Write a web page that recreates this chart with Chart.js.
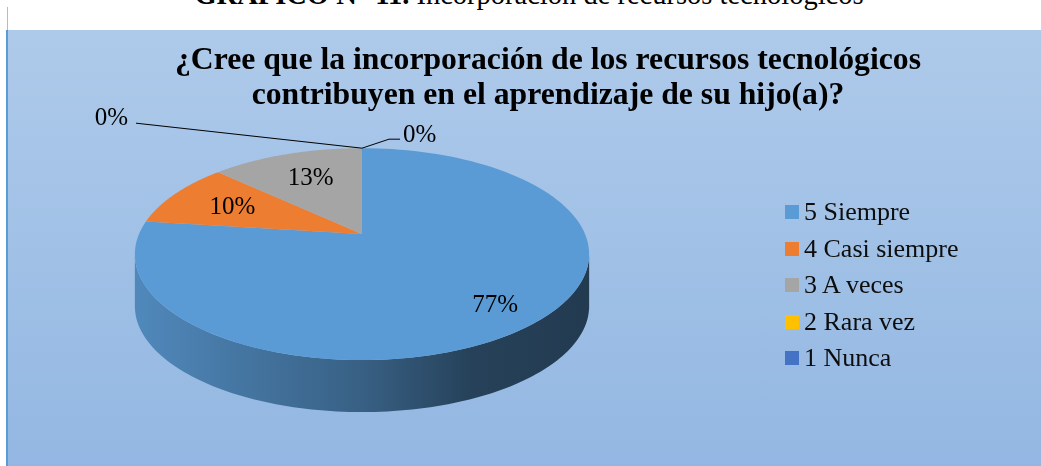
<!DOCTYPE html>
<html>
<head>
<meta charset="utf-8">
<script src="https://cdn.jsdelivr.net/npm/chart.js@4.4.0/dist/chart.umd.min.js"></script>
<style>
  body { margin: 0; width: 1041px; height: 466px; overflow: hidden; background: #fff; position: relative;
         font-family: "Liberation Serif", "Times New Roman", serif; }
  #caption { position: absolute; left: 0; width: 1058px; top: -19px; text-align: center; font-size: 28.5px;
             line-height: 28px; color: #000; white-space: nowrap; }
  #edge { position: absolute; left: 7px; top: 7px; width: 1px; height: 23px; background: #9dc0e6; }
  #frame { position: absolute; left: 6px; top: 30px; width: 1035px; height: 436px; box-sizing: border-box;
           border-left: 2px solid #5b9bd5; background: linear-gradient(#aecaea, #93b7e2); }
  #chart { position: absolute; left: 0; top: 0; }
  #title { position: absolute; left: 0; width: 1096px; top: 41px; text-align: center; font-weight: bold;
           font-size: 31.7px; line-height: 35px; color: #000; white-space: nowrap; }
  #legend { position: absolute; left: 785px; top: 194px; }
  .row { display: flex; align-items: center; height: 36.5px; font-size: 26px; line-height: 26px; color: #0d0d0d; white-space: nowrap; }
  .key { width: 14px; height: 14px; margin-right: 5px; flex: none; }
</style>
</head>
<body>
<div id="caption"><b>GRÁFICO N° 11.</b> Incorporación de recursos tecnológicos</div>
<div id="edge"></div>
<div id="frame"></div>
<canvas id="chart" width="1041" height="466"></canvas>
<div id="title">¿Cree que la incorporación de los recursos tecnológicos<br>contribuyen en el aprendizaje de su hijo(a)?</div>
<div id="legend"></div>
<script>
const labels = ["5 Siempre", "4 Casi siempre", "3 A veces", "2 Rara vez", "1 Nunca"];
const values = [77, 10, 13, 0, 0];
const colors = ["#5b9bd5", "#ed7d31", "#a5a5a5", "#ffc000", "#4472c4"];

const total = values.reduce((a, b) => a + b, 0);

// fake 3d: perspective tilt, vertical squash, wall height
const TILT = 0.19, SQUASH = 0.458, DEPTH = 52;

function proj(el, ang, f) {
  const u = Math.cos(ang) * f, v = -Math.sin(ang) * f;
  const d = 1 + TILT * v;
  return { x: el.x + el.outerRadius * u / d, y: el.y - el.outerRadius * SQUASH * v / d };
}

function shade(hex, k) {
  const n = parseInt(hex.slice(1), 16);
  const r = Math.round(((n >> 16) & 255) * k), g = Math.round(((n >> 8) & 255) * k), b = Math.round((n & 255) * k);
  return `rgb(${r},${g},${b})`;
}

const pie3d = {
  id: "pie3d",
  beforeDatasetsDraw(chart) {
    const ctx = chart.ctx;
    const arcs = chart.getDatasetMeta(0).data;
    const th1 = Math.asin(TILT), th2 = Math.PI - th1;
    const steps = 120;

    // side wall (front half only)
    arcs.forEach((el, i) => {
      for (const off of [-2 * Math.PI, 0, 2 * Math.PI]) {
        const a = Math.max(el.startAngle + off, th1), b = Math.min(el.endAngle + off, th2);
        if (b <= a) continue;
        ctx.beginPath();
        for (let s = 0; s <= steps; s++) {
          const p = proj(el, a + (b - a) * s / steps, 1);
          s === 0 ? ctx.moveTo(p.x, p.y) : ctx.lineTo(p.x, p.y);
        }
        for (let s = steps; s >= 0; s--) {
          const p = proj(el, a + (b - a) * s / steps, 1);
          ctx.lineTo(p.x, p.y + DEPTH);
        }
        ctx.closePath();
        const g = ctx.createLinearGradient(el.x - el.outerRadius, 0, el.x + el.outerRadius, 0);
        g.addColorStop(0, shade(colors[i], 0.88));
        g.addColorStop(0.5, shade(colors[i], 0.62));
        g.addColorStop(0.75, shade(colors[i], 0.42));
        g.addColorStop(1, shade(colors[i], 0.38));
        ctx.fillStyle = g;
        ctx.fill();
      }
    });

    // top face
    arcs.forEach((el, i) => {
      if (el.endAngle - el.startAngle <= 0) return;
      const c = proj(el, 0, 0);
      ctx.beginPath();
      ctx.moveTo(c.x, c.y);
      for (let s = 0; s <= steps; s++) {
        const p = proj(el, el.startAngle + (el.endAngle - el.startAngle) * s / steps, 1);
        ctx.lineTo(p.x, p.y);
      }
      ctx.closePath();
      ctx.fillStyle = colors[i];
      ctx.fill();
    });

    // data labels
    ctx.font = '25px "Liberation Serif", serif';
    ctx.fillStyle = "#000";
    ctx.strokeStyle = "#000";
    ctx.lineWidth = 1;
    let zeros = 0;
    arcs.forEach((el, i) => {
      const txt = Math.round(values[i] / total * 100) + "%";
      if (values[i] > 0) {
        const f = values[i] / total > 0.5 ? 0.8 : 0.7;
        const p = proj(el, (el.startAngle + el.endAngle) / 2, f);
        ctx.textAlign = "center";
        ctx.fillText(txt, p.x + (f < 0.8 ? 4 : 0), p.y + 9);
        return;
      }
      const a = proj(el, el.startAngle, 1);
      ctx.beginPath();
      if (zeros === 0) {
        ctx.moveTo(a.x, a.y);
        ctx.lineTo(a.x + 27, a.y - 9);
        ctx.lineTo(a.x + 38, a.y - 9);
        ctx.stroke();
        ctx.textAlign = "left";
        ctx.fillText(txt, a.x + 41, a.y - 6);
      } else {
        ctx.moveTo(a.x, a.y);
        ctx.lineTo(a.x - 226, a.y - 25);
        ctx.stroke();
        ctx.textAlign = "right";
        ctx.fillText(txt, a.x - 234, a.y - 23);
      }
      zeros++;
    });
    return false;
  }
};

new Chart(document.getElementById("chart"), {
  type: "pie",
  data: {
    labels: labels,
    datasets: [{ data: values, backgroundColor: colors, borderWidth: 0 }]
  },
  options: {
    responsive: false,
    animation: false,
    events: [],
    layout: { padding: { left: 139, right: 456, top: 11, bottom: 9 } },
    plugins: { legend: { display: false }, tooltip: { enabled: false } }
  },
  plugins: [pie3d]
});

// legend built from the same arrays
const legend = document.getElementById("legend");
labels.forEach((l, i) => {
  const row = document.createElement("div");
  row.className = "row";
  row.innerHTML = `<span class="key" style="background:${colors[i]}"></span><span>${l}</span>`;
  legend.appendChild(row);
});
</script>
</body>
</html>
